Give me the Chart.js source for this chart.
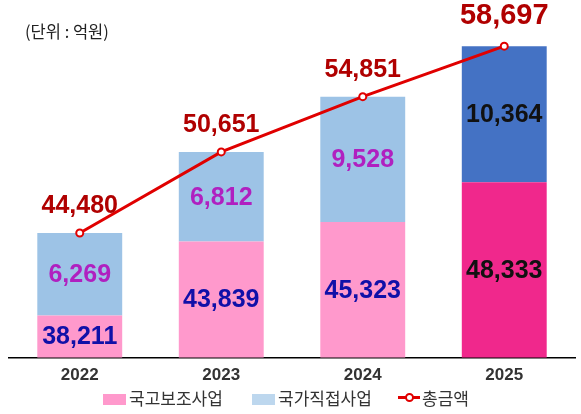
<!DOCTYPE html>
<html>
<head>
<meta charset="utf-8">
<script src="https://cdn.jsdelivr.net/npm/chart.js@4"></script>
<style>
  body { margin: 0; background: #fff; }
  #wrap { position: relative; width: 581px; height: 414px; }
  #unit { position: absolute; left: 25px; top: 19px; font: 16.5px "Noto Sans CJK KR", sans-serif; color: #222; }
  .leg { position: absolute; top: 387px; font: 17px "Noto Sans CJK KR", sans-serif; color: #333; line-height: 22px; white-space: nowrap; }
  .box { display: inline-block; width: 23px; height: 11px; margin-right: 3px; vertical-align: 0px; }
  .ln { display: inline-block; position: relative; width: 22px; height: 3px; background: #E00000; margin-right: 2px; vertical-align: 6px; }
  .ln i { position: absolute; left: 7px; top: -3px; width: 5px; height: 5px; border: 2px solid #E00000; border-radius: 50%; background: #fff; }
</style>
</head>
<body>
<div id="wrap">
  <canvas id="myChart" width="581" height="414"></canvas>
  <div id="unit">(단위 : 억원)</div>
  <div class="leg" style="left:103px"><span class="box" style="background:#FF99CC"></span>국고보조사업</div>
  <div class="leg" style="left:252px"><span class="box" style="background:#BDD7EE"></span>국가직접사업</div>
  <div class="leg" style="left:398px"><span class="ln"><i></i></span>총금액</div>
</div>
<script>
var years = ["2022", "2023", "2024", "2025"];
var subsidy = [38211, 43839, 45323, 48333];
var direct = [6269, 6812, 9528, 10364];
var total = [44480, 50651, 54851, 58697];

var fmt = function (v) { return v.toLocaleString('en-US'); };

var labelPlugin = {
  id: 'labels',
  afterDatasetsDraw: function (chart) {
    var c = chart.ctx;
    var bottom = chart.chartArea.bottom;
    c.save();
    c.textAlign = 'center';
    c.textBaseline = 'middle';
    chart.data.datasets.forEach(function (ds, di) {
      var meta = chart.getDatasetMeta(di);
      meta.data.forEach(function (el, i) {
        var v = ds.data[i];
        if (ds.type === 'line') {
          c.font = 'bold ' + (i === 3 ? 29 : 25) + 'px "Liberation Sans", Arial';
          c.fillStyle = '#B00000';
          c.fillText(fmt(v), el.x, el.y - (i === 3 ? 30 : 27));
        } else {
          c.font = 'bold 25px "Liberation Sans", Arial';
          c.fillStyle = ds.labelColor[i];
          c.fillText(fmt(v), el.x, (el.y + Math.min(el.base, bottom)) / 2 + 1);
        }
      });
    });
    c.restore();
  }
};

var chartData = {
  labels: years,
  datasets: [
    {
      type: 'line',
      label: '총금액',
      data: total,
      stack: 'total',
      borderColor: '#E00000',
      borderWidth: 3,
      pointRadius: 3.5,
      pointBorderWidth: 2,
      pointBackgroundColor: '#fff',
      pointBorderColor: '#E00000',
      tension: 0
    },
    {
      type: 'bar',
      label: '국고보조사업',
      data: subsidy,
      stack: 'parts',
      backgroundColor: ['#FF99CC', '#FF99CC', '#FF99CC', '#F0288C'],
      labelColor: ['#1010A8', '#1010A8', '#1010A8', '#111111'],
      categoryPercentage: 1,
      barPercentage: 0.6
    },
    {
      type: 'bar',
      label: '국가직접사업',
      data: direct,
      stack: 'parts',
      backgroundColor: ['#9DC3E6', '#9DC3E6', '#9DC3E6', '#4472C4'],
      labelColor: ['#B020C0', '#B020C0', '#B020C0', '#111111'],
      categoryPercentage: 1,
      barPercentage: 0.6
    }
  ]
};

var chartOptions = {
  responsive: false,
  animation: false,
  layout: { padding: { left: 9, right: 3, top: 29, bottom: 20 } },
  plugins: {
    legend: { display: false },
    tooltip: { enabled: false }
  },
  scales: {
    x: {
      stacked: true,
      grid: { display: false, drawTicks: false },
      border: { color: '#000', width: 1.5 },
      ticks: {
        padding: 8,
        color: '#333',
        font: { size: 17, weight: 'bold', family: '"Liberation Sans", Arial' }
      }
    },
    y: {
      stacked: true,
      min: 35000,
      max: 60000,
      border: { display: false },
      ticks: { display: false, stepSize: 10000 },
      grid: {
        drawTicks: false,
        color: function (ctx) {
          return (ctx.tick && (ctx.tick.value === 45000 || ctx.tick.value === 55000)) ? '#D4D4D4' : 'rgba(0,0,0,0)';
        },
        tickBorderDash: [3, 2]
      }
    }
  }
};

new Chart(document.getElementById('myChart'), {
  data: chartData,
  options: chartOptions,
  plugins: [labelPlugin]
});
</script>
</body>
</html>
